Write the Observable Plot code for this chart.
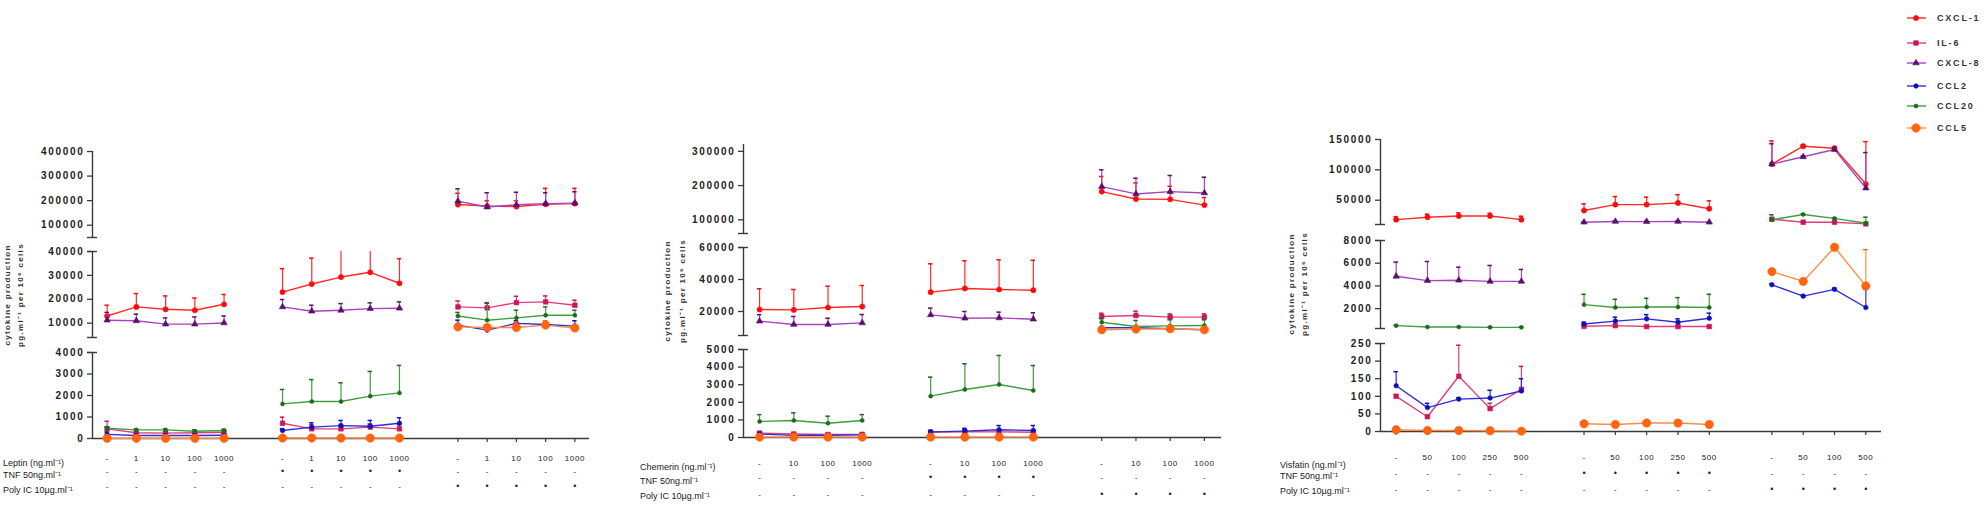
<!DOCTYPE html>
<html><head><meta charset="utf-8">
<script src="https://cdn.jsdelivr.net/npm/d3@7"></script>
<script src="https://cdn.jsdelivr.net/npm/@observablehq/plot@0.6"></script>
<style>
body{margin:0;background:#fff;}
#chart{position:relative;width:1985px;height:512px;overflow:hidden;background:#fff;font-family:"Liberation Sans",Arial,sans-serif;}
.rowlab{position:absolute;font-size:9px;color:#222;white-space:nowrap;line-height:1;transform:translateY(-50%);}
.ytitle{position:absolute;font-size:8px;font-weight:bold;letter-spacing:1.3px;color:#333;white-space:nowrap;line-height:1;transform:translate(-50%,-50%) rotate(-90deg);}
</style></head><body><div id="chart"></div><script>
// ---------- series ----------
const seriesNames = ["CXCL-1","IL-6","CXCL-8","CCL2","CCL20","CCL5"];
const lineColors  = ["#ff2b2b","#e0407a","#a545bd","#2e2ed8","#3f9f3f","#ff8c48"];
const markColors  = ["#ff0a0a","#c8185a","#5a0f6e","#1010b8","#1d6a1d","#ff650f"];
const markSymbols = ["circle","square","triangle","circle","circle","circle"];
const markRadii   = [2.6, 2.6, 2.4, 2.3, 2.0, 4.2];

// ---------- x labels ----------
const tnfRow  = ["-","•","-"];
const polyRow = ["-","-","•"];
const leptinDoses   = [["-","1","10","100","1000"],["-","1","10","100","1000"],["-","1","10","100","1000"]];
const chemerinDoses = [["-","10","100","1000"],["-","10","100","1000"],["-","10","100","1000"]];
const visfatinDoses = [["-","50","100","250","500"],["-","50","100","250","500"],["-","50","100","500"]];

// ---------- Leptin panel ----------
const leptinCXCL1    = [13000,16800,15800,15400,17900, 23000,26400,29300,31300,26700, 184000,178000,176000,185000,188000];
const leptinCXCL1Err = [17500,22400,21400,20500,22000, 32800,37200,41100,42800,37000, 230000,200000,200000,250000,250000];
const leptinIL6      = [450,270,250,270,290, 710,450,450,530,450, 16800,16400,18600,18900,17500];
const leptinIL6Err   = [800,330,320,330,340, 990,650,620,680,640, 19300,18600,21250,21400,19600];
const leptinCXCL8    = [11250,11000,9600,9600,10100, 16800,15000,15400,16100,16250, 198000,174000,183000,188000,190000];
const leptinCXCL8Err = [14500,13750,12200,12600,13000, 19900,17500,18200,18500,18900, 248000,232000,234000,232000,236000];
const leptinCCL2     = [190,140,140,140,150, 370,530,600,570,710, 9200,7100,9900,9450,8750];
const leptinCCL2Err  = [300,200,200,200,210, 450,730,840,840,960, 11250,8500,11000,10500,11000];
const leptinCCL20    = [480,400,400,340,370, 1610,1720,1720,1970,2120, 13000,11250,12200,13300,13300];
const leptinCCL20Err = [550,450,450,400,430, 2280,2740,2590,3120,3400, 14500,18300,15400,16800,15400];
const leptinCCL5     = [10,10,10,10,10, 20,20,20,20,20, 8450,8200,8200,9200,8000];
const leptinCCL5Err  = [null,null,null,null,null, null,null,null,null,null, 9000,9300,10500,11000,9000];

// ---------- Chemerin panel ----------
const chemCXCL1    = [21250,21000,22500,23100, 32100,34400,33750,33300, 182400,160900,159800,143000];
const chemCXCL1Err = [34200,33750,35800,36250, 49800,51700,52300,52000, 226500,208000,198000,165000];
const chemIL6      = [250,200,170,180, 300,330,320,300, 16900,17500,16500,16500];
const chemIL6Err   = [320,260,230,240, 380,420,420,400, 18900,20200,18500,18500];
const chemCXCL8    = [13950,11900,11900,12900, 17900,15800,16000,15200, 197000,175600,182400,178500];
const chemCXCL8Err = [18000,16900,15800,18100, 22100,20000,19600,19200, 246000,221500,229400,224400];
const chemCCL2     = [200,120,130,150, 320,360,440,400, 9800,9800,9200,8600];
const chemCCL2Err  = [280,180,190,210, 400,520,680,680, 10500,10500,10000,9500];
const chemCCL20    = [910,970,810,970, 2350,2730,3010,2670, 13300,10600,11000,11250];
const chemCCL20Err = [1300,1400,1210,1300, 3430,4190,4660,4090, 15500,14400,14800,14800];
const chemCCL5     = [20,20,20,20, 20,20,20,20, 8600,9000,9200,8600];
const chemCCL5Err  = [null,null,null,null, null,null,null,null, null,null,null,null];

// ---------- Visfatin panel ----------
const visCXCL1    = [18000,22000,24000,24000,18000, 33000,42800,42800,45500,36000, 109500,139000,135700,76700];
const visCXCL1Err = [23000,27000,29000,28500,23600, 44000,56000,55000,59000,49000, 147700,141000,138000,146500];
const visIL6      = [100,42,157,65,120, 450,500,420,420,420, 18700,13800,13800,11000];
const visIL6Err   = [105,45,245,80,185, 520,560,480,480,480, 19500,14500,14500,12000];
const visCXCL8    = [4850,4470,4500,4400,4400, 13800,15000,14800,15000,13800, 109500,121500,133500,70000];
const visCXCL8Err = [6100,6150,5650,5800,5450, 14500,15800,15500,15800,14500, 143000,123000,135000,128500];
const visCCL2     = [130,68,92,95,115, 650,900,1100,800,1150, 4100,3100,3700,2100];
const visCCL2Err  = [170,80,96,117,150, 800,1250,1470,1100,1600, 4200,3200,3800,3700];
const visCCL20    = [500,380,380,350,350, 2350,2100,2150,2150,2100, 17700,26500,20000,12000];
const visCCL20Err = [550,420,420,390,390, 3260,2820,2910,2970,3260, 26000,27500,21000,22000];
const visCCL5     = [5,3,3,2,1, 22,20,24,24,20, 5260,4400,7400,4000];
const visCCL5Err  = [null,null,null,null,null, null,null,null,null,null, null,null,null,7200];

// ---------- panels (layout) ----------
const panels = [
  { doses: leptinDoses, treatment: "Leptin (ng.ml⁻¹)",
    values: [leptinCXCL1,leptinIL6,leptinCXCL8,leptinCCL2,leptinCCL20,leptinCCL5],
    errs: [leptinCXCL1Err,leptinIL6Err,leptinCXCL8Err,leptinCCL2Err,leptinCCL20Err,leptinCCL5Err],
    L: { left: 28, width: 582, axisX: 92, endX: 589, xDomain: [-0.5, 16.5], gap: 1,
         tickPad: 13, tnfDy: 35, polyDy: 50,
         rowX: 3, rowY: [463, 475, 490], titleX: [7.5, 21], titleY: 295,
         segs: [
          {top:151, bottom:237, domain:[50000,400000], ticks:[100000,200000,300000,400000]},
          {top:251, bottom:337, domain:[4000,40000], ticks:[10000,20000,30000,40000]},
          {top:352, bottom:438, domain:[0,4000], ticks:[0,1000,2000,3000,4000]} ] } },
  { doses: chemerinDoses, treatment: "Chemerin (ng.ml⁻¹)",
    values: [chemCXCL1,chemIL6,chemCXCL8,chemCCL2,chemCCL20,chemCCL5],
    errs: [chemCXCL1Err,chemIL6Err,chemCXCL8Err,chemCCL2Err,chemCCL20Err,chemCCL5Err],
    L: { left: 680, width: 560, axisX: 743, endX: 1221, xDomain: [-0.47, 13.5], gap: 1,
         tickPad: 19, tnfDy: 42, polyDy: 59,
         rowX: 640, rowY: [467, 481, 496], titleX: [668, 683], titleY: 291,
         segs: [
          {top:144, bottom:233, domain:[60000,320000], ticks:[100000,200000,300000]},
          {top:247, bottom:335, domain:[5000,60000], ticks:[20000,40000,60000]},
          {top:349, bottom:437, domain:[0,5000], ticks:[0,1000,2000,3000,4000,5000]} ] } },
  { doses: visfatinDoses, treatment: "Visfatin (ng.ml⁻¹)",
    values: [visCXCL1,visIL6,visCXCL8,visCCL2,visCCL20,visCCL5],
    errs: [visCXCL1Err,visIL6Err,visCXCL8Err,visCCL2Err,visCCL20Err,visCCL5Err],
    L: { left: 1315, width: 585, axisX: 1380, endX: 1881, xDomain: [-0.5, 15.5], gap: 1,
         tickPad: 19, tnfDy: 44, polyDy: 60,
         rowX: 1280, rowY: [465, 476, 491], titleX: [1292, 1305], titleY: 284,
         segs: [
          {top:139, bottom:224, domain:[10000,150000], ticks:[50000,100000,150000]},
          {top:240, bottom:328, domain:[250,8000], ticks:[2000,4000,6000,8000]},
          {top:343, bottom:431, domain:[0,250], ticks:[0,50,100,150,200,250]} ] } }
];

const chart = document.getElementById("chart");
const FONT = "'Liberation Sans', Arial, sans-serif";

function buildRows(p) {
  const maxD = d3.max(p.doses, d => d.length);
  const positions = [];
  p.doses.forEach((ds, g) => ds.forEach((dose, i) =>
    positions.push({pos: g * (maxD + p.L.gap) + i, dose, group: g})));
  const rows = [];
  seriesNames.forEach((s, si) => p.values[si].forEach((v, k) =>
    rows.push({series: si, pos: positions[k].pos, group: positions[k].group, value: v, err: p.errs[si][k]})));
  return {rows, positions};
}

function drawSegment(p, rows, positions, segIndex) {
  const L = p.L, seg = L.segs[segIndex];
  const isBottom = segIndex === 2;
  const mt = 6, mb = isBottom ? 76 : 6;
  const [x0, x1] = L.xDomain;
  const [d0, d1] = seg.domain;
  const pxPerSlot = (L.endX - L.axisX) / (x1 - x0);
  const capU = 5 / pxPerSlot, errCapU = 2.2 / pxPerSlot;
  const inSeg = rows.filter(r => r.value >= d0 && r.value <= d1);
  const marks = [];
  // y axis line, ticks and break caps
  marks.push(Plot.ruleX([x0], {y1: d0, y2: d1, stroke: "#3a3a3a", strokeWidth: 1.4}));
  marks.push(Plot.axisY({ticks: seg.ticks, tickSize: 5, tickPadding: 3, tickFormat: d => String(d),
    stroke: "#3a3a3a", strokeWidth: 1.3, fill: "#222", fontSize: 10, fontWeight: "bold", label: null}));
  if (segIndex < 2) marks.push(Plot.ruleY([d0], {x1: x0 - capU, x2: x0 + capU, stroke: "#3a3a3a", strokeWidth: 1.4}));
  if (segIndex > 0) marks.push(Plot.ruleY([d1], {x1: x0 - capU, x2: x0 + capU, stroke: "#3a3a3a", strokeWidth: 1.4}));
  if (isBottom) {
    marks.push(Plot.ruleY([d0], {x1: x0, x2: x1, stroke: "#3a3a3a", strokeWidth: 1.3}));
    const lab = new Map(positions.map(d => [d.pos, d.dose]));
    marks.push(Plot.axisX({ticks: positions.map(d => d.pos), tickSize: 4, tickPadding: L.tickPad,
      tickFormat: d => lab.get(d), stroke: "#3a3a3a", strokeWidth: 1.2, fill: "#222", fontSize: 8, label: null}));
    marks.push(Plot.text(positions, {x: "pos", text: d => tnfRow[d.group], frameAnchor: "bottom",
      dy: L.tnfDy, fontSize: d => tnfRow[d.group] === "•" ? 9 : 8, fill: "#222"}));
    marks.push(Plot.text(positions, {x: "pos", text: d => polyRow[d.group], frameAnchor: "bottom",
      dy: L.polyDy, fontSize: d => polyRow[d.group] === "•" ? 9 : 8, fill: "#222"}));
  }
  seriesNames.forEach((s, si) => {
    const sr = inSeg.filter(r => r.series === si);
    const er = sr.filter(r => r.err != null && r.err > r.value);
    marks.push(Plot.ruleX(er, {x: "pos", y1: "value", y2: d => Math.min(d.err, d1), stroke: lineColors[si], strokeWidth: 1.2}));
    marks.push(Plot.ruleY(er.filter(d => d.err <= d1), {y: "err", x1: d => d.pos - errCapU, x2: d => d.pos + errCapU,
      stroke: markColors[si], strokeWidth: 1.5}));
    marks.push(Plot.line(sr, {x: "pos", y: "value", z: "group", stroke: lineColors[si], strokeWidth: 1.4}));
    marks.push(Plot.dot(sr, {x: "pos", y: "value", r: markRadii[si], symbol: markSymbols[si],
      fill: markColors[si], stroke: markColors[si], strokeWidth: 0.6}));
  });
  const svg = Plot.plot({
    width: L.width, height: (seg.bottom - seg.top) + mt + mb,
    marginLeft: L.axisX - L.left, marginRight: L.left + L.width - L.endX, marginTop: mt, marginBottom: mb,
    x: {domain: L.xDomain, axis: isBottom ? undefined : null},
    y: {domain: seg.domain},
    style: {background: "transparent", overflow: "visible", fontFamily: FONT},
    marks
  });
  svg.style.position = "absolute";
  svg.style.left = L.left + "px";
  svg.style.top = (seg.top - mt) + "px";
  d3.select(svg).selectAll('g[aria-label="y-axis tick label"] text')
    .attr("letter-spacing", "1.7").attr("font-weight", "bold");
  d3.select(svg).selectAll('g[aria-label="x-axis tick label"] text').attr("letter-spacing", "0.6");
  chart.appendChild(svg);
}

function addDiv(cls, text, x, y) {
  const d = document.createElement("div");
  d.className = cls; d.textContent = text;
  d.style.left = x + "px"; d.style.top = y + "px";
  chart.appendChild(d);
}

panels.forEach(p => {
  const {rows, positions} = buildRows(p);
  [0, 1, 2].forEach(i => drawSegment(p, rows, positions, i));
  addDiv("rowlab", p.treatment, p.L.rowX, p.L.rowY[0]);
  addDiv("rowlab", "TNF 50ng.ml⁻¹", p.L.rowX, p.L.rowY[1]);
  addDiv("rowlab", "Poly IC 10µg.ml⁻¹", p.L.rowX, p.L.rowY[2]);
  addDiv("ytitle", "cytokine production", p.L.titleX[0], p.L.titleY);
  addDiv("ytitle", "pg.ml⁻¹ per 10⁶ cells", p.L.titleX[1], p.L.titleY);
});

// ---------- legend ----------
const legendY = [18, 43, 63, 86, 106, 128];
const lg = d3.create("svg").attr("width", 90).attr("height", 140)
  .style("position", "absolute").style("left", "1895px").style("top", "0px").style("overflow", "visible");
seriesNames.forEach((s, si) => {
  const g = lg.append("g").attr("transform", `translate(0,${legendY[si]})`);
  g.append("line").attr("x1", 12).attr("x2", 31).attr("y1", 0).attr("y2", 0)
    .attr("stroke", lineColors[si]).attr("stroke-width", 1.4);
  const sym = {circle: d3.symbolCircle, square: d3.symbolSquare, triangle: d3.symbolTriangle}[markSymbols[si]];
  const r = markRadii[si];
  g.append("path").attr("transform", "translate(21,0)")
    .attr("d", d3.symbol(sym, Math.PI * r * r)())
    .attr("fill", markColors[si]).attr("stroke", markColors[si]).attr("stroke-width", 0.6);
  g.append("text").attr("x", 42).attr("y", 0).attr("dy", "0.35em").text(s)
    .attr("font-family", FONT).attr("font-size", 9).attr("font-weight", "bold")
    .attr("letter-spacing", 1.8).attr("fill", "#333");
});
chart.appendChild(lg.node());
</script></body></html>
